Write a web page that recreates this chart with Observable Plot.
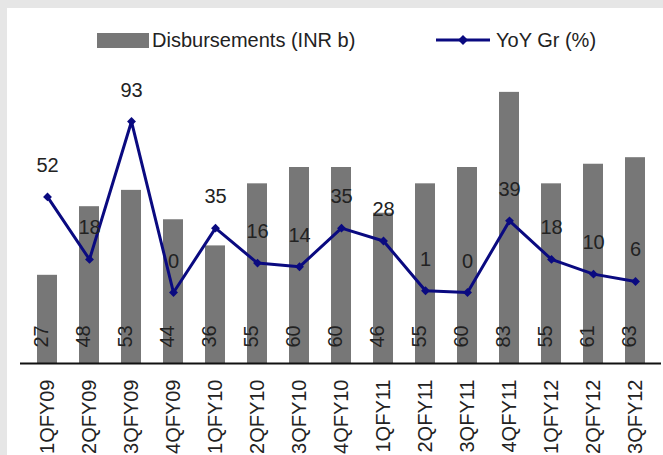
<!DOCTYPE html>
<html>
<head>
<meta charset="utf-8">
<script src="https://cdn.jsdelivr.net/npm/d3@7"></script>
<script src="https://cdn.jsdelivr.net/npm/@observablehq/plot@0.6"></script>
<style>
  html, body { margin: 0; padding: 0; background: #e6e6e6; }
  #wrap { position: relative; width: 663px; height: 455px; background: #e6e6e6; overflow: hidden; font-family: "Liberation Sans", Arial, sans-serif; }
  #panel { position: absolute; left: 7px; top: 8px; right: 0; bottom: 0; background: #fff; }
  .layer { position: absolute; left: 0; top: 0; }
  .leg { position: absolute; font-size: 20px; color: #222; line-height: 20px; white-space: nowrap; }
</style>
</head>
<body>
<div id="wrap">
  <div id="panel"></div>
  <div id="bars" class="layer"></div>
  <div id="line" class="layer"></div>
  <svg class="layer" width="663" height="70" style="pointer-events:none">
    <rect x="97" y="33" width="52" height="15" fill="#777777"></rect>
    <line x1="436" x2="490" y1="40" y2="40" stroke="#0a0a80" stroke-width="3"></line>
    <path d="M463,35 L468,40 L463,45 L458,40 Z" fill="#0a0a80"></path>
  </svg>
  <div class="leg" style="left:152px; top:30px;">Disbursements (INR b)</div>
  <div class="leg" style="left:496px; top:30px;">YoY Gr (%)</div>
</div>
<script>
const quarters = ["1QFY09","2QFY09","3QFY09","4QFY09","1QFY10","2QFY10","3QFY10","4QFY10","1QFY11","2QFY11","3QFY11","4QFY11","1QFY12","2QFY12","3QFY12"];
const disbursements = [27,48,53,44,36,55,60,60,46,55,60,83,55,61,63];
const yoyGrowth = [52,18,93,0,35,16,14,35,28,1,0,39,18,10,6];

const barData = quarters.map((q, i) => ({q, v: disbursements[i]}));
const lineData = quarters.map((q, i) => ({q, v: yoyGrowth[i]}));

const font = "'Liberation Sans', Arial, sans-serif";
const common = {
  width: 663, height: 455,
  marginLeft: 20, marginRight: 2, marginTop: 69, marginBottom: 92,
  style: {background: "transparent", fontFamily: font, fontSize: "20px", color: "#222", overflow: "visible"}
};
const xOpts = {domain: quarters, paddingInner: 0.53, paddingOuter: 0.27, label: null};

const bars = Plot.plot({
  ...common,
  x: {...xOpts, tickRotate: -90, tickSize: 0, tickPadding: 16},
  y: {domain: [0, 90], axis: null},
  marks: [
    Plot.barY(barData, {x: "q", y: "v", fill: "#777777"}),
    Plot.ruleY([0], {stroke: "#111", strokeWidth: 2}),
    Plot.text(barData, {x: "q", frameAnchor: "bottom", text: d => String(d.v), rotate: -90, textAnchor: "start", dy: -16, fill: "#222", fontSize: 20})
  ]
});
document.getElementById("bars").appendChild(bars);

const line = Plot.plot({
  ...common,
  x: {...xOpts, axis: null},
  y: {domain: [-38.6, 121.3], axis: null},
  marks: [
    Plot.lineY(lineData, {x: "q", y: "v", stroke: "#0a0a80", strokeWidth: 3}),
    Plot.dot(lineData, {x: "q", y: "v", symbol: "diamond2", r: 4, fill: "#0a0a80", stroke: "none"}),
    Plot.text(lineData, {x: "q", y: "v", text: d => String(d.v), lineAnchor: "bottom", dy: -25, fill: "#222", fontSize: 20})
  ]
});
document.getElementById("line").appendChild(line);
</script>
</body>
</html>
